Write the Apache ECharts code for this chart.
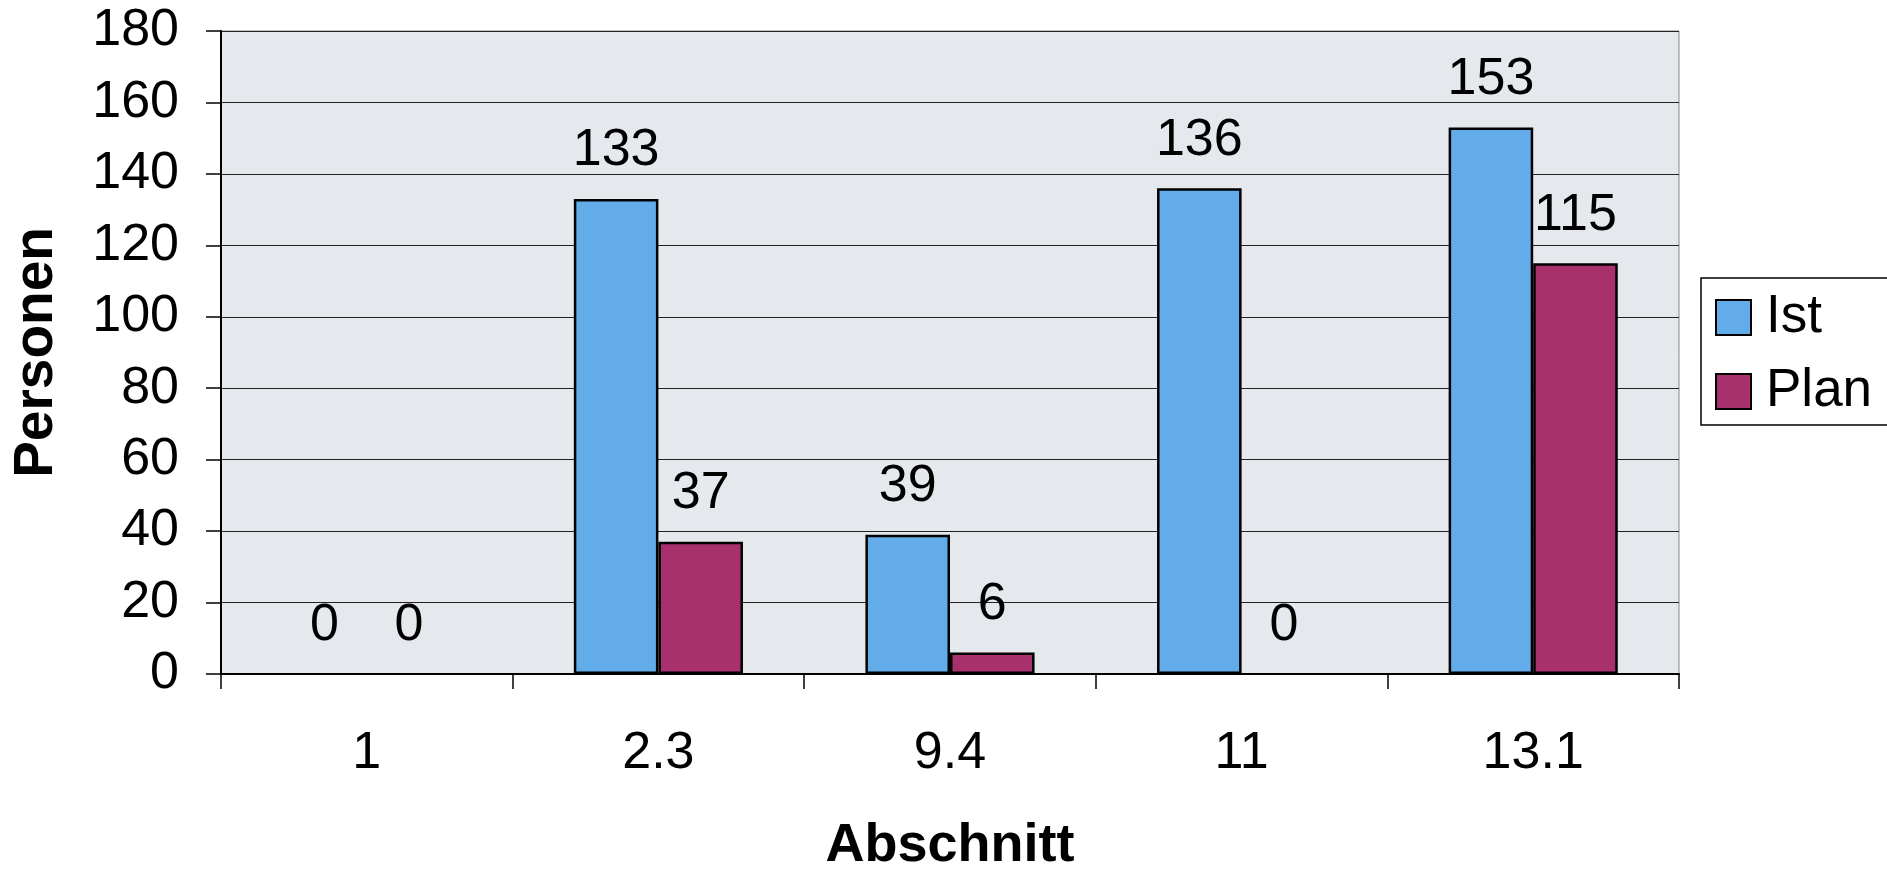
<!DOCTYPE html>
<html>
<head>
<meta charset="utf-8">
<script src="https://cdn.jsdelivr.net/npm/echarts@6/dist/echarts.min.js"></script>
<style>html,body{margin:0;padding:0;background:#fff;}#c{width:1887px;height:878px;}</style>
</head>
<body>
<div id="c"></div>
<script>
const categories = ['1', '2.3', '9.4', '11', '13.1'];
const istValues = [0, 133, 39, 136, 153];
const planValues = [0, 37, 6, 0, 115];
const yTicks = { min: 0, max: 180, interval: 20 };

const FONT = '"Liberation Sans", Arial, sans-serif';
const chart = echarts.init(document.getElementById('c'));
const labelCfg = {
  show: true, position: 'top', distance: 22,
  color: '#000', fontFamily: FONT, fontSize: 52
};
function toItems(values) {
  return values.map(v => v === 0 ? { value: v, itemStyle: { borderWidth: 0 } } : v);
}
chart.setOption({
  animation: false,
  backgroundColor: '#ffffff',
  grid: {
    left: 221, right: 208, top: 31, bottom: 186,
    show: true, backgroundColor: '#e5e8ed', borderColor: '#888', borderWidth: 1
  },
  legend: {
    orient: 'vertical',
    left: 1701, top: 278,
    width: 150,
    padding: [13, 40, 7, 14],
    itemWidth: 35, itemHeight: 35, itemGap: 21,
    backgroundColor: '#ffffff',
    borderColor: '#000', borderWidth: 1.5,
    icon: 'rect',
    textStyle: { fontFamily: FONT, fontSize: 53, color: '#000', padding: [0, 0, 0, 10] },
    data: ['Ist', 'Plan']
  },
  xAxis: {
    type: 'category',
    data: categories,
    name: 'Abschnitt',
    nameLocation: 'middle',
    nameGap: 145,
    nameTextStyle: { fontFamily: FONT, fontSize: 54, fontWeight: 'bold', color: '#000' },
    axisLine: { lineStyle: { color: '#000', width: 2 } },
    axisTick: { show: true, length: 15, lineStyle: { color: '#000', width: 1.5 } },
    axisLabel: { margin: 54, fontFamily: FONT, fontSize: 52, color: '#000' },
    splitLine: { show: false }
  },
  yAxis: {
    type: 'value',
    min: yTicks.min, max: yTicks.max, interval: yTicks.interval,
    name: 'Personen',
    nameLocation: 'middle',
    nameGap: 157,
    nameTextStyle: { fontFamily: FONT, fontSize: 55, fontWeight: 'bold', color: '#000' },
    axisLine: { show: true, lineStyle: { color: '#000', width: 2 } },
    axisTick: { show: true, length: 15, lineStyle: { color: '#000', width: 1.5 } },
    axisLabel: { margin: 42, fontFamily: FONT, fontSize: 52, color: '#000' },
    splitLine: { show: true, lineStyle: { color: '#222', width: 1.2 } }
  },
  series: [
    {
      name: 'Ist', type: 'bar', data: toItems(istValues),
      barGap: '0%', barCategoryGap: '42%',
      itemStyle: { color: '#63acea', borderColor: '#000', borderWidth: 2.5 },
      label: labelCfg
    },
    {
      name: 'Plan', type: 'bar', data: toItems(planValues),
      itemStyle: { color: '#a8306c', borderColor: '#000', borderWidth: 2.5 },
      label: labelCfg
    }
  ]
});
</script>
</body>
</html>
